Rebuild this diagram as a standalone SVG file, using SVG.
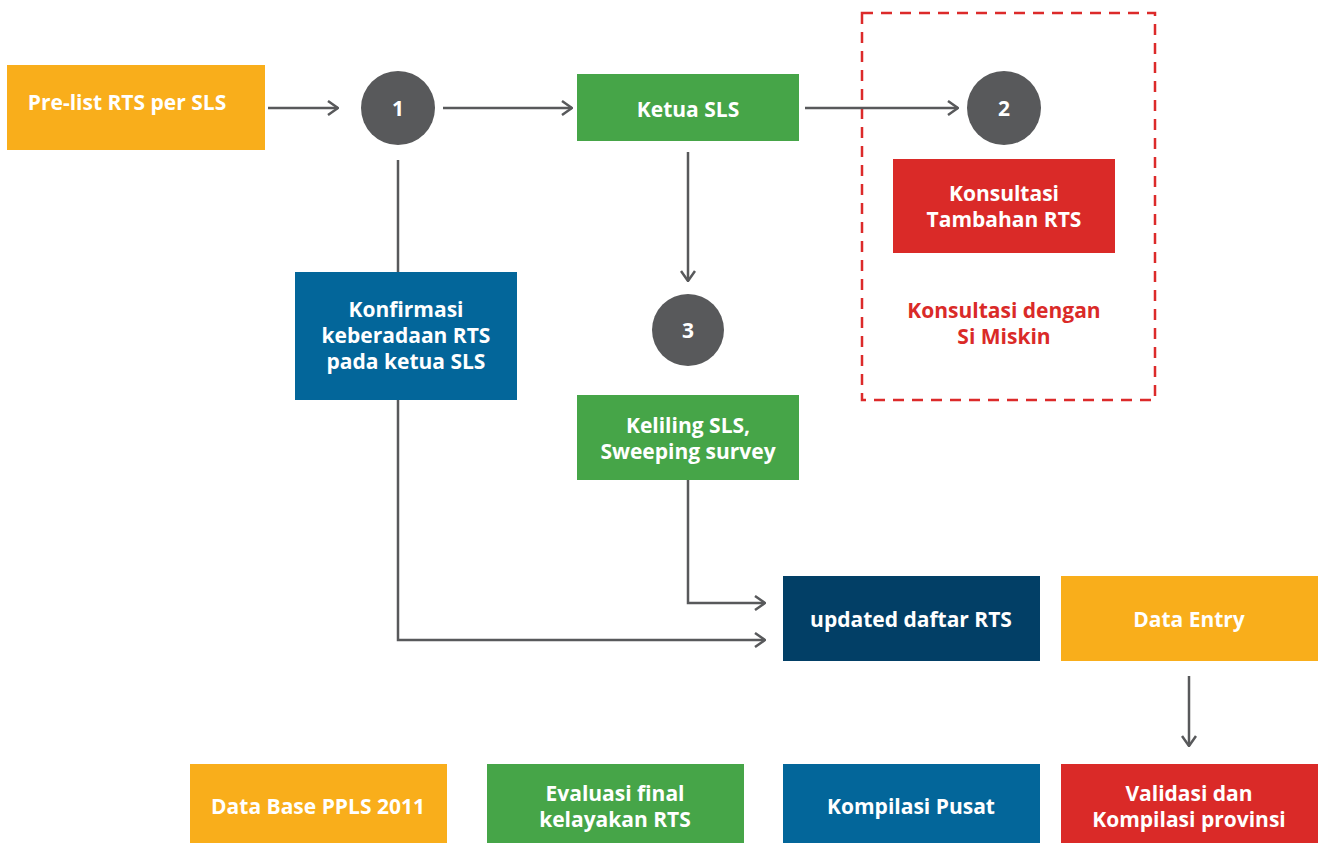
<svg xmlns="http://www.w3.org/2000/svg" width="1318" height="843" viewBox="0 0 1318 843">
  <defs>
    <marker id="chev" viewBox="0 0 12 16" refX="11" refY="8" markerWidth="12" markerHeight="16" markerUnits="userSpaceOnUse" orient="auto">
      <path d="M1,1 L11,8 L1,15" fill="none" stroke="#58595b" stroke-width="2.5"/>
    </marker>
    <style>
      .box text { font-family: "Open Sans", "Liberation Sans", sans-serif; font-weight: 700; fill: #ffffff; text-anchor: middle; font-size: 21px; }
      .circ text { font-family: "Open Sans", "Liberation Sans", sans-serif; font-weight: 700; fill: #ffffff; text-anchor: middle; font-size: 21px; }
      .orange { fill: #f9ae1b; }
      .green { fill: #46a548; }
      .blue { fill: #03669a; }
      .navy { fill: #023f66; }
      .red { fill: #da2a28; }
      .circ circle { fill: #58595b; }
      .link { fill: none; stroke: #58595b; stroke-width: 2.5; marker-end: url(#chev); }
      .plain { fill: none; stroke: #58595b; stroke-width: 2.5; }
      .note { font-family: "Open Sans", "Liberation Sans", sans-serif; font-weight: 700; fill: #da2a28; text-anchor: middle; font-size: 21px; }
    </style>
  </defs>

  <!-- dashed boundary around the consultation step -->
  <rect id="group-konsultasi" x="862" y="13" width="293" height="387" fill="none" stroke="#dc2a2a" stroke-width="2.5" stroke-dasharray="11 8"/>

  <g id="connectors">
    <path class="link" d="M268,108 H338"/>
    <path class="link" d="M443,108 H572"/>
    <path class="link" d="M805,108 H958"/>
    <path class="plain" d="M398,160 V272"/>
    <path class="link" d="M398,400 V640 H765"/>
    <path class="link" d="M688,152 V281"/>
    <path class="link" d="M688,480 V603 H765"/>
    <path class="link" d="M1189,676 V746"/>
  </g>

  <g id="prelist" class="box">
    <rect class="orange" x="7" y="65" width="258" height="85"/>
    <text x="127" y="110">Pre-list RTS per SLS</text>
  </g>

  <g id="step1" class="circ">
    <circle cx="398" cy="108" r="37"/>
    <text x="398" y="116">1</text>
  </g>

  <g id="ketua" class="box">
    <rect class="green" x="577" y="74" width="222" height="67"/>
    <text x="688" y="117">Ketua SLS</text>
  </g>

  <g id="step2" class="circ">
    <circle cx="1004" cy="108" r="37"/>
    <text x="1004" y="116">2</text>
  </g>

  <g id="tambahan" class="box">
    <rect class="red" x="893" y="159" width="222" height="94"/>
    <text x="1004" y="201">Konsultasi</text>
    <text x="1004" y="227">Tambahan RTS</text>
  </g>

  <g id="si-miskin">
    <text class="note" x="1004" y="318">Konsultasi dengan</text>
    <text class="note" x="1004" y="344">Si Miskin</text>
  </g>

  <g id="konfirmasi" class="box">
    <rect class="blue" x="295" y="272" width="222" height="128"/>
    <text x="406" y="317">Konfirmasi</text>
    <text x="406" y="343">keberadaan RTS</text>
    <text x="406" y="369">pada ketua SLS</text>
  </g>

  <g id="step3" class="circ">
    <circle cx="688" cy="330" r="36"/>
    <text x="688" y="338">3</text>
  </g>

  <g id="keliling" class="box">
    <rect class="green" x="577" y="395" width="222" height="85"/>
    <text x="688" y="433">Keliling SLS,</text>
    <text x="688" y="459">Sweeping survey</text>
  </g>

  <g id="updated" class="box">
    <rect class="navy" x="783" y="576" width="257" height="85"/>
    <text x="911" y="627">updated daftar RTS</text>
  </g>

  <g id="data-entry" class="box">
    <rect class="orange" x="1061" y="576" width="257" height="85"/>
    <text x="1189" y="627">Data Entry</text>
  </g>

  <g id="database" class="box">
    <rect class="orange" x="190" y="764" width="257" height="79"/>
    <text x="318" y="814">Data Base PPLS 2011</text>
  </g>

  <g id="evaluasi" class="box">
    <rect class="green" x="487" y="764" width="257" height="79"/>
    <text x="615" y="801">Evaluasi final</text>
    <text x="615" y="827">kelayakan RTS</text>
  </g>

  <g id="kompilasi-pusat" class="box">
    <rect class="blue" x="783" y="764" width="257" height="79"/>
    <text x="911" y="814">Kompilasi Pusat</text>
  </g>

  <g id="validasi" class="box">
    <rect class="red" x="1061" y="764" width="257" height="79"/>
    <text x="1189" y="801">Validasi dan</text>
    <text x="1189" y="827">Kompilasi provinsi</text>
  </g>
</svg>
